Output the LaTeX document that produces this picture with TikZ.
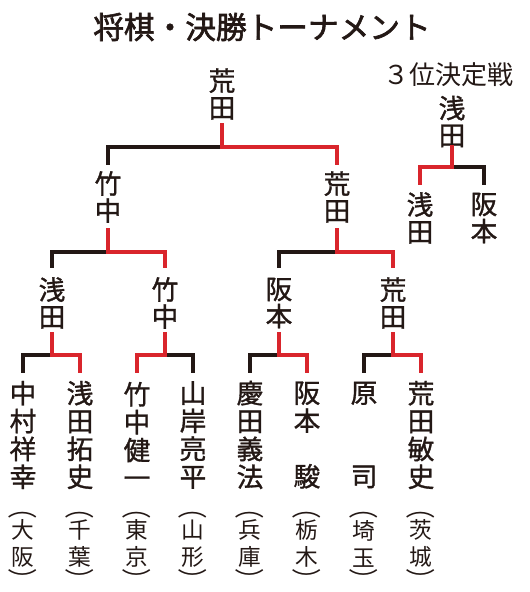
\documentclass[tikz,border=0pt]{standalone}
\usepackage{fontspec}
\setmainfont{Noto Sans CJK JP}
\newfontfamily\namefont[FakeBold=1.2]{Noto Sans CJK JP}
\newfontfamily\titlefont[FakeBold=2]{Noto Sans CJK JP}
\usetikzlibrary{calc}
\definecolor{winred}{HTML}{D9252C}
\definecolor{inkblack}{HTML}{231815}
\newcommand{\opn}{\rotatebox[origin=c]{-90}{\scalebox{1}[1.3]{（}}}
\newcommand{\cls}{\rotatebox[origin=c]{-90}{\scalebox{1}[1.3]{）}}}
\begin{document}
\begin{tikzpicture}[x=0.75pt,y=-0.75pt,
  nm/.style={inner sep=0pt, align=center, text=inkblack, font=\fontsize{20}{20.3}\namefont},
  pl/.style={inner sep=0pt, align=center, text=inkblack, font=\fontsize{20}{20.9}\namefont},
  pref/.style={inner sep=0pt, align=center, text=inkblack, font=\fontsize{17}{20.3}\selectfont},
  par/.style={inner sep=0pt, text=inkblack, font=\fontsize{17}{20}\selectfont},
  lose/.style={draw=inkblack, line width=2.5pt},
  win/.style={draw=winred, line width=3.4pt},
]
\useasboundingbox (0,0) rectangle (529,592);
% title
\node[inner sep=0pt, text=inkblack, font=\fontsize{23}{26}\titlefont] (title) at (262,27) {将棋・決勝トーナメント};
\node[inner sep=0pt, text=inkblack, font=\fontsize{19.5}{22}\selectfont] (third) at (448,75) {３位決定戦};
% final
\node[nm] (F) at (222,94) {荒\\田};
\node[nm] (SL) at (108,197) {竹\\中};
\node[nm] (SR) at (337,197) {荒\\田};
\node[nm] (Q1) at (52,303) {浅\\田};
\node[nm] (Q2) at (165,303) {竹\\中};
\node[nm] (Q3) at (279,303) {阪\\本};
\node[nm] (Q4) at (393,303) {荒\\田};
% players
\node[pl] (P1) at (23,435) {中\\村\\祥\\幸};
\node[pl] (P2) at (80,435) {浅\\田\\拓\\史};
\node[pl] (P3) at (137,435) {竹\\中\\健\\一};
\node[pl] (P4) at (193,435) {山\\岸\\亮\\平};
\node[pl] (P5) at (250,435) {慶\\田\\義\\法};
\node[pl] (P6) at (307,435) {阪\\本\\\phantom{本}\\駿};
\node[pl] (P7) at (364,435) {原\\\phantom{原}\\\phantom{原}\\司};
\node[pl] (P8) at (421,435) {荒\\田\\敏\\史};
% prefectures
\foreach \i/\x/\a/\b in {1/23/大/阪, 2/80/千/葉, 3/137/東/京, 4/193/山/形, 5/250/兵/庫, 6/307/栃/木, 7/364/埼/玉, 8/421/茨/城}{
  \node[par] (Ro\i) at (\x,507.5) {\opn};
  \node[pref] (R\i) at (\x,543.5) {\a\\\b};
  \node[par] (Rc\i) at (\x,580) {\cls};
}
% third place
\node[nm] (T) at (452,121.5) {浅\\田};
\node[nm] (T1) at (420,218) {浅\\田};
\node[nm] (T2) at (484,218) {阪\\本};

% ---- losers' lines
\draw[lose] ($(F)+(0,53)$) -| ($(SL)+(0,-32)$);
\draw[lose] ($(SL)+(0,55)$) -| ($(Q1)+(0,-35)$);
\draw[lose] ($(SR)+(0,55)$) -| ($(Q3)+(0,-35)$);
\draw[lose] ($(Q1)+(0,52)$) -| ($(P1)+(0,-62)$);
\draw[lose] ($(Q2)+(0,52)$) -| ($(P4)+(0,-62)$);
\draw[lose] ($(Q3)+(0,52)$) -| ($(P5)+(0,-62)$);
\draw[lose] ($(Q4)+(0,52)$) -| ($(P7)+(0,-62)$);
\draw[lose] ($(T)+(0,45.5)$) -| ($(T2)+(0,-33)$);
% ---- winners' lines
\draw[win] ($(F)+(0,29)$) |- ($(SR)+(0,-50)$) -- ($(SR)+(0,-32)$);
\draw[win] ($(SL)+(0,31)$) |- ($(Q2)+(0,-51)$) -- ($(Q2)+(0,-35)$);
\draw[win] ($(SR)+(0,31)$) |- ($(Q4)+(0,-51)$) -- ($(Q4)+(0,-35)$);
\draw[win] ($(Q1)+(0,29)$) |- ($(P2)+(0,-80)$) -- ($(P2)+(0,-62)$);
\draw[win] ($(Q2)+(0,29)$) |- ($(P3)+(0,-80)$) -- ($(P3)+(0,-62)$);
\draw[win] ($(Q3)+(0,29)$) |- ($(P6)+(0,-80)$) -- ($(P6)+(0,-62)$);
\draw[win] ($(Q4)+(0,29)$) |- ($(P8)+(0,-80)$) -- ($(P8)+(0,-62)$);
\draw[win] ($(T)+(0,23.5)$) |- ($(T1)+(0,-51)$) -- ($(T1)+(0,-33)$);
\end{tikzpicture}
\end{document}
